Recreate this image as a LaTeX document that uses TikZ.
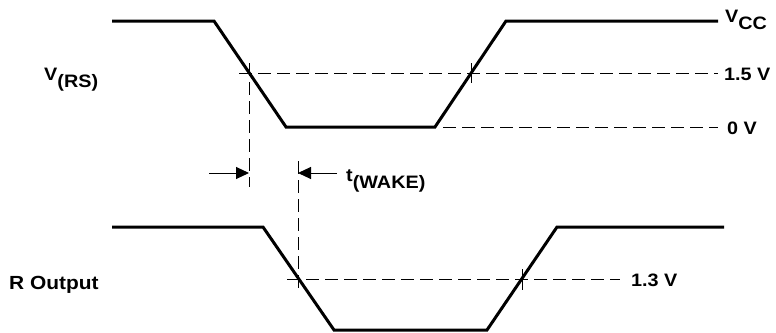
\documentclass[tikz,border=0pt]{standalone}
\usepackage{fontspec}
\setmainfont{Liberation Sans}[FakeStretch=1.1]
\usetikzlibrary{arrows.meta}
\tikzstyle{signal} = [line width=3pt, line join=miter]
\tikzstyle{level} = [line width=1pt, dash pattern=on 13pt off 6pt]
\tikzstyle{marker} = [line width=1pt]
\tikzstyle{arrow} = [line width=1pt, -{Triangle[length=13pt, width=12pt]}]
\tikzstyle{levellabel} = [inner sep=0pt, anchor=west, font=\fontsize{18}{18}\selectfont\bfseries]
\tikzstyle{siglabel} = [inner sep=0pt, anchor=base west, font=\bfseries]
\newcommand{\sublbl}[2]{{\fontsize{18}{18}\selectfont #1}\raisebox{-7pt}{\fontsize{18}{18}\selectfont #2}}

\begin{document}
\begin{tikzpicture}[x=1pt, y=-1pt]
        \useasboundingbox (0,0) rectangle (776,332);

        % input V(RS)
        \draw [signal] (112,21) -- (214,21) -- (286,127) -- (435,127) -- (506,21) -- (718,21);
        % output
        \draw [signal] (112,227) -- (263,227) -- (334,330) -- (487,330) -- (557,227) -- (724,227);

        \coordinate (RSfall) at (249,73);
        \coordinate (ROfall) at (298,279);

        \draw [level] (239,73) -- (718,73);
        \draw [level] (443,127) -- (718,127);
        \draw [level] (287,279) -- (620,279);
        \draw [level] (249,63) -- (249,187);
        \draw [level] (298,161) -- (298,290);

        \draw [marker] (471,63) -- (471,83);
        \draw [marker] (522,269) -- (522,290);

        \coordinate (wakeL) at (249,173);
        \coordinate (wakeR) at (298,173);
        \draw [arrow] (209,173) -- (wakeL);
        \draw [arrow] (337,173) -- (wakeR);

        \node (Vcc) [siglabel] at (725,22) {\sublbl{V}{CC}};
        \node (V15) [levellabel] at (724,74) {1.5 V};
        \node (V0) [levellabel] at (727,128) {0 V};
        \node (V13) [levellabel] at (631,280) {1.3 V};
        \node (VRS) [siglabel] at (44,80) {\sublbl{V}{(RS)}};
        \node (twake) [siglabel] at (346,181) {\sublbl{t}{(WAKE)}};
        \node (Rout) [siglabel, font=\fontsize{19}{19}\selectfont\bfseries] at (9,289) {R Output};

\end{tikzpicture}
\end{document}
